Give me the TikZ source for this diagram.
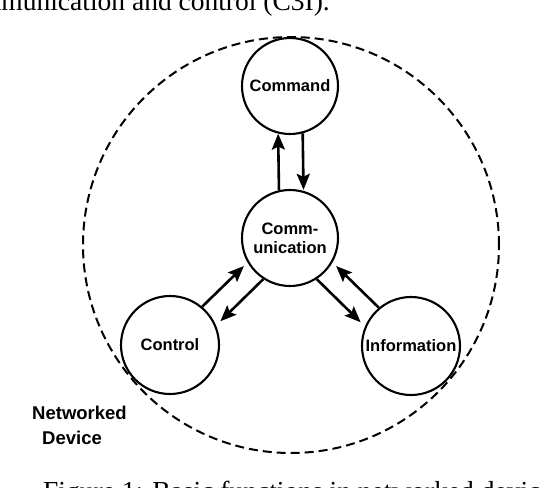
\documentclass[tikz,border=0pt]{standalone}
\usepackage{fontspec}
\setmainfont{Liberation Serif}
\newfontfamily\labelfont{Liberation Sans}
\usetikzlibrary{arrows.meta}
\begin{document}
\begin{tikzpicture}[x=1pt,y=-1pt,
  func/.style={circle,draw,line width=2.1pt,minimum size=96pt,inner sep=0pt,
    font=\labelfont\bfseries\fontsize{16.5}{19}\selectfont,align=center},
  devbox/.style={circle,draw,line width=2pt,dash pattern=on 9pt off 5pt,minimum size=416pt,inner sep=0pt},
  flow/.style={line width=2.6pt,-{Stealth[length=16pt,width=13pt,inset=3pt]}},
  captxt/.style={inner sep=0pt,font=\fontsize{27.5}{30}\selectfont},
  devlabel/.style={inner sep=0pt,align=left,font=\labelfont\bfseries\fontsize{18.5}{25}\selectfont}
]
\useasboundingbox (0,0) rectangle (542,488);
\clip (0,0) rectangle (542,488);
\node[captxt,anchor=base east] (cap1) at (330,10.5) {communication and control (C3I).};
\node[captxt,anchor=base west] (cap2) at (43,500) {Figure 1: Basic functions in networked devices};
\node[devbox] (dev) at (291,245) {};
\node[func] (cmd) at (290,86) {Command};
\node[func] (comm) at (290,238) {Comm-\\unication};
\node[func,minimum size=98pt] (ctrl) at (170,345) {Control};
\node[func,minimum size=98pt] (info) at (411,346) {Information};
\node[devlabel,anchor=north west] (devname) at (32,406) {Networked\\\hspace*{10pt}Device};
\draw[flow] (comm.103.2) -- (cmd.256.8);
\draw[flow,shorten >=1pt] (cmd.285.7) -- (comm.74.3);
\draw[flow,shorten >=5pt] (ctrl.50) -- (comm.210);
\draw[flow,shorten >=6pt] (comm.237) -- (ctrl.23);
\draw[flow,shorten >=5pt] (info.130) -- (comm.330);
\draw[flow,shorten >=6pt] (comm.303) -- (info.157);
\end{tikzpicture}
\end{document}
